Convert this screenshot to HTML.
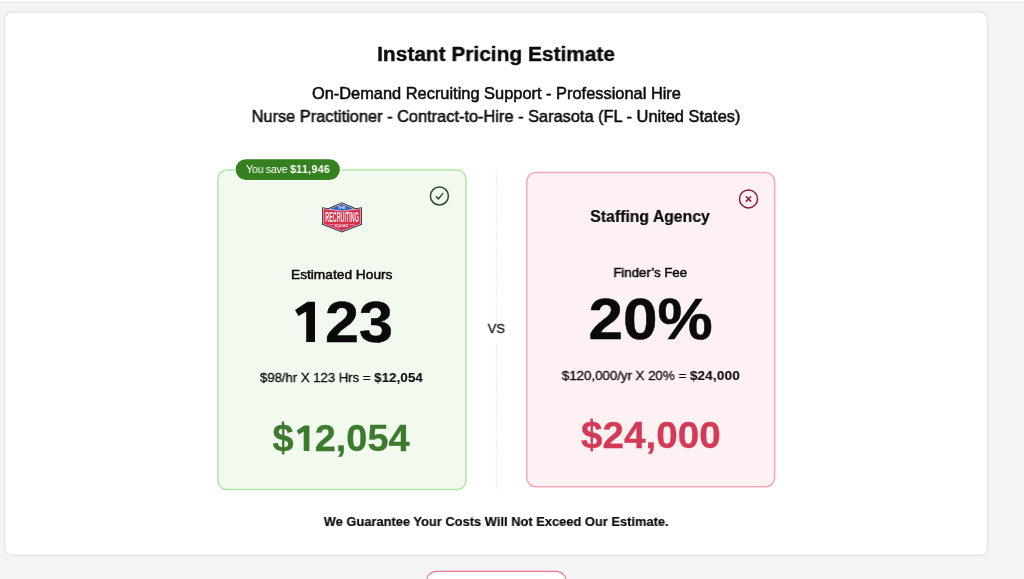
<!DOCTYPE html>
<html lang="en">
<head>
<meta charset="utf-8">
<title>Instant Pricing Estimate</title>
<style>
*{box-sizing:border-box;margin:0;padding:0}
html,body{width:1024px;height:579px;overflow:hidden}
body{background:#f4f4f4;font-family:"Liberation Sans",sans-serif;color:#0a0a0a;position:relative}
.topbar{position:absolute;left:0;top:0;width:1024px;height:3px;background:linear-gradient(#fff 0,#fff 62%,#ebebeb 70%,#ebebeb 100%)}
.panel{position:absolute;left:5px;top:12px;width:982px;height:543px;border-radius:7px}
.shapes{position:absolute;left:0;top:0;width:1024px;height:579px;overflow:hidden;will-change:transform}
.t{position:absolute;white-space:nowrap;line-height:1;transform-origin:50% 50%;will-change:transform}
.med{-webkit-text-stroke:0.5px currentColor}
.t b{font-weight:700}
.gh{color:transparent}
#badgetxt{letter-spacing:-0.28px}#bb{letter-spacing:0.32px}
#calc1{letter-spacing:-0.05px}#c1b{letter-spacing:0.13px}
#calc2{letter-spacing:-0.08px}#c2b{letter-spacing:0.22px}
#n123,#n20{-webkit-text-stroke:0.5px #0a0a0a}
#n123 .gh{-webkit-text-stroke:0 transparent}
#p1{-webkit-text-stroke:0.3px #3d7a2e}#p2{-webkit-text-stroke:0.3px #d33a57}
#p1 .gh{-webkit-text-stroke:0 transparent}
#calc1,#calc2,#vs{-webkit-text-stroke:0.28px currentColor}
#c1b,#c2b{-webkit-text-stroke:0.1px currentColor}
#title{-webkit-text-stroke:0.4px currentColor}
#guar,#sa{-webkit-text-stroke:0.2px currentColor}
#title{left:496px;top:43px;font-size:21.05px;transform:translate(calc(-50% + 0.09px),0.00px) scaleX(0.9924);font-weight:700}
#sub1{left:496px;top:85px;font-size:16.40px;transform:translate(calc(-50% + 0.41px),0.00px) scaleX(1.0003)}
#sub2{left:495px;top:108px;font-size:16.40px;transform:translate(calc(-50% + 0.96px),0.00px) scaleX(0.9985)}
#badgetxt{left:288px;top:164px;font-size:11.00px;transform:translate(calc(-50% + 0.09px),0.00px) scaleX(0.9695);color:#fff}
#vs{left:496px;top:322px;font-size:13.30px;transform:translate(calc(-50% + 0.39px),0.00px) scaleX(0.9859);color:#111}
#eh{left:341px;top:268px;font-size:13.30px;transform:translate(calc(-50% + 0.72px),0.00px) scaleX(1.0325)}
#n123{left:341px;top:294px;font-size:57.40px;transform:translate(calc(-50% + 0.94px),0.00px) scaleX(1.0647);font-weight:700}
#calc1{left:341px;top:371px;font-size:13.50px;transform:translate(calc(-50% + 0.41px),0.00px) scaleX(0.9802)}
#p1{left:341px;top:421px;font-size:36.80px;transform:translate(calc(-50% + 0.04px),0.00px) scaleX(1.0316);font-weight:700;color:#3d7a2e}
#sa{left:650px;top:208px;font-size:16.50px;transform:translate(calc(-50% + 0.03px),0.00px) scaleX(0.9567);font-weight:700}
#ff{left:650px;top:266px;font-size:13.30px;transform:translate(calc(-50% + 0.20px),0.00px) scaleX(0.9937)}
#n20{left:650px;top:291px;font-size:57.40px;transform:translate(calc(-50% + 0.64px),0.00px) scaleX(1.0809);font-weight:700}
#calc2{left:650px;top:369px;font-size:13.50px;transform:translate(calc(-50% + 0.88px),0.00px) scaleX(0.9961)}
#p2{left:650px;top:418px;font-size:36.80px;transform:translate(calc(-50% + 0.90px),0.00px) scaleX(1.0494);font-weight:700;color:#d33a57}
#guar{left:496px;top:515px;font-size:13.50px;transform:translate(calc(-50% + 0.17px),0.00px) scaleX(0.9540);font-weight:700}
</style>
</head>
<body>
<div class="topbar"></div>
<main class="panel"></main>

<svg class="shapes" width="1024" height="579" viewBox="0 0 1024 579">
  <!-- main panel -->
  <rect x="4.8" y="12" width="982.7" height="543.2" rx="7" fill="#fff" stroke="#e6e6e6" stroke-width="1.4"/>
  <!-- dotted divider -->
  <line x1="496.3" y1="169.2" x2="496.3" y2="490.3" stroke="#e0e0e0" stroke-width="1" stroke-dasharray="1.6 1.7"/>
  <rect x="486" y="319.5" width="21" height="20.5" fill="#fff"/>
  <!-- our card -->
  <rect x="217.95" y="169.95" width="248" height="319.6" rx="9" ry="9" fill="#f2faf0" stroke="#ade8a5" stroke-width="1.5"/>
  <!-- agency card -->
  <rect x="526.75" y="172.55" width="247.9" height="314.2" rx="9" ry="9" fill="#fdf1f3" stroke="#f3a9b7" stroke-width="1.5"/>
  <!-- savings badge -->
  <rect x="234.4" y="158" width="106.8" height="23.1" rx="11.55" fill="#fff"/>
  <rect x="235.6" y="159.2" width="104.3" height="20.75" rx="10.37" fill="#35801f"/>
  <!-- check icon -->
  <g fill="none" stroke="#2f4a2b" stroke-width="1.5" stroke-linecap="round" stroke-linejoin="round">
    <circle cx="439.4" cy="196" r="9"/>
    <path d="M436.5 196.9 L438.5 198.9 L442.7 193.6"/>
  </g>
  <!-- x icon -->
  <g fill="none" stroke="#8c1d40" stroke-width="1.5" stroke-linecap="round" stroke-linejoin="round">
    <circle cx="748.5" cy="198.9" r="9"/>
    <path d="M746.3 196.7 L750.7 201.1 M750.7 196.7 L746.3 201.1"/>
  </g>
  <!-- logo -->
  <g id="logo">
    <path d="M322.1 207.2 L328 208.3 L341.9 202.2 L355.8 208.3 L361.9 207.2 L361.9 224.7 L341.9 232.6 L322.1 224.7 Z" fill="#2d2f45"/>
    <path d="M323 208.3 L328.4 209.3 L341.9 203.3 L355.4 209.3 L361 208.3 L361 224.1 L341.9 231.6 L323 224.1 Z" fill="#fbe9ec"/>
    <path d="M323.5 208.9 L341.9 211.3 L360.5 208.9 L360.5 223.8 L341.9 231 L323.5 223.8 Z" fill="#d8314f"/>
    <path d="M329.6 209.1 L341.9 203.9 L354.2 209.1 L341.9 210.8 Z" fill="#3c62b7"/>
    <text x="342.05" y="221.9" font-family="Liberation Sans, sans-serif" font-weight="700" font-size="14.4" fill="#fff" fill-opacity="0.88" text-anchor="middle" textLength="33.6" lengthAdjust="spacingAndGlyphs">RECRUITING</text>
    <text x="341.3" y="226.5" font-family="Liberation Sans, sans-serif" font-weight="700" font-size="4.4" fill="#fff" fill-opacity="0.85" text-anchor="middle" textLength="14.2" lengthAdjust="spacingAndGlyphs">SQUAD</text>
    <rect x="328.8" y="224" width="4.6" height="0.7" fill="#f3b3bf"/>
    <rect x="349.5" y="224" width="5.2" height="0.7" fill="#f3b3bf"/>
    <text x="341.8" y="208.9" font-family="Liberation Sans, sans-serif" font-weight="700" font-size="2.6" fill="#dfe6f6" text-anchor="middle" textLength="7.4" lengthAdjust="spacingAndGlyphs">THE</text>
  </g>
  <!-- footless "1" glyphs -->
  <path d="M307.5 301.8 H315 V341.9 H306.2 V311.5 L298.5 316 L295 310 Z" fill="#0a0a0a"/>
  <path d="M304.4 425.45 H309.4 V451 H303.7 V431.5 L298.75 434.4 L296.7 430.4 Z" fill="#3d7a2e"/>
  <!-- dollar-sign bar extensions -->
  <rect x="281.7" y="421.5" width="2.4" height="3.5" fill="#3d7a2e"/>
  <rect x="590.45" y="418.6" width="2.4" height="3.4" fill="#d33a57"/>
  <!-- next button peeking at bottom -->
  <rect x="426.4" y="571.4" width="139.9" height="40" rx="10" fill="#fff" stroke="#e8798c" stroke-width="1.15"/>
</svg>

<h1 class="t" id="title">Instant Pricing Estimate</h1>
<p class="t med" id="sub1">On-Demand Recruiting Support - Professional Hire</p>
<p class="t med" id="sub2">Nurse Practitioner - Contract-to-Hire - Sarasota (FL - United States)</p>

<span class="t" id="badgetxt">You save <b id="bb">$11,946</b></span>
<span class="t" id="vs">VS</span>

<section>
  <div class="t med" id="eh">Estimated Hours</div>
  <div class="t" id="n123"><span class="gh">1</span>23</div>
  <div class="t" id="calc1">$98/hr X 123 Hrs = <b id="c1b">$12,054</b></div>
  <div class="t" id="p1">$<span class="gh">1</span>2,054</div>
</section>

<section>
  <h2 class="t" id="sa">Staffing Agency</h2>
  <div class="t med" id="ff">Finder’s Fee</div>
  <div class="t" id="n20">20%</div>
  <div class="t" id="calc2">$120,000/yr X 20% = <b id="c2b">$24,000</b></div>
  <div class="t" id="p2">$24,000</div>
</section>

<p class="t" id="guar">We Guarantee Your Costs Will Not Exceed Our Estimate.</p>
</body>
</html>
